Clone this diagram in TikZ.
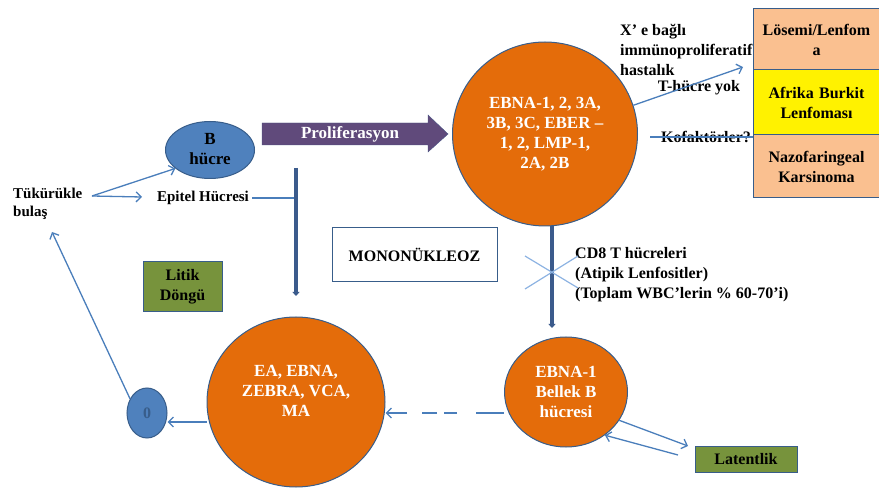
\documentclass[tikz,border=0pt]{standalone}
\usepackage{fontspec}
\setmainfont{Liberation Serif}
\usetikzlibrary{shapes.geometric, arrows.meta}
\definecolor{ebvorange}{HTML}{E46C0A}
\definecolor{ebvblue}{HTML}{4F81BD}
\definecolor{ebvedge}{HTML}{385D8A}
\definecolor{ebvline}{HTML}{4A7EBB}
\definecolor{ebvdark}{HTML}{3B5B8C}
\definecolor{ebvpurple}{HTML}{604A7B}
\definecolor{ebvpeach}{HTML}{FAC090}
\definecolor{ebvgreen}{HTML}{77933C}
\definecolor{ebvcross}{HTML}{8DB3E2}
\tikzset{
  txt/.style={font=\fontsize{16}{20}\selectfont\bfseries, align=center, inner sep=0pt},
  smalltxt/.style={txt, font=\fontsize{15}{18}\selectfont\bfseries},
  wtxt/.style={txt, text=white, font=\fontsize{17}{20}\selectfont\bfseries},
  cell/.style={ellipse, draw=ebvedge, line width=1pt, inner sep=0pt},
  orangecell/.style={cell, fill=ebvorange},
  bluecell/.style={cell, fill=ebvblue},
  greenbox/.style={rectangle, draw=ebvedge, line width=1pt, fill=ebvgreen, txt, text=black},
  sidebox/.style={rectangle, draw=ebvedge, line width=1pt, txt, minimum width=127, text width=124},
  thin/.style={ebvline, line width=1.3pt},
  thinarrow/.style={thin, -{Straight Barb[length=5pt, width=10pt]}},
  thickarrow/.style={ebvdark, line width=3.5pt, -{Triangle[length=4pt, width=7pt]}}
}
\begin{document}
\begin{tikzpicture}[x=1pt, y=-1pt]
  \useasboundingbox (0,0) rectangle (879,489);
  % cells
  \node[bluecell, minimum width=89, minimum height=57] (bcell) at (210,150) {};
  \node[txt, font=\fontsize{17}{20}\selectfont\bfseries] (bcelltxt) at (210,149) {B\\hücre};
  \node[orangecell, minimum width=185, minimum height=184] (prolif) at (545,134) {};
  \node[wtxt] (prolifc) at (545,134) {EBNA-1, 2, 3A,\\3B, 3C, EBER –\\1, 2, LMP-1,\\2A, 2B};
  \node[orangecell, minimum width=178, minimum height=170] (lytic) at (296,402) {};
  \node[wtxt] (lyticc) at (296,391) {EA, EBNA,\\ZEBRA, VCA,\\MA};
  \node[orangecell, minimum width=123, minimum height=110] (memory) at (566,392) {};
  \node[wtxt] (memoryc) at (566,392) {EBNA-1\\Bellek B\\hücresi};
  \node[bluecell, minimum width=40, minimum height=50] (virion) at (147,413) {};
  \node[txt, text=ebvedge] (virionc) at (147,413) {0};
  % texts
  \node[smalltxt, align=left, anchor=west] (saliva) at (13,204) {Tükürükle\\bulaş};
  \node[smalltxt] (epithel) at (203,198) {Epitel Hücresi};
  \node[greenbox, minimum width=79, minimum height=50] (litik) at (182.5,287) {Litik\\Döngü};
  \node[rectangle, draw=ebvedge, line width=1pt, txt, minimum width=165, minimum height=54] (mono) at (414.5,255) {MONONÜKLEOZ};
  \node[txt, align=left, anchor=north west] (cd8) at (575,247) {CD8 T hücreleri\\(Atipik Lenfositler)\\(Toplam WBC'lerin \% 60-70'i)};
  \node[greenbox, minimum width=102, minimum height=26] (latent) at (746,459) {Latentlik};
  % right column
  \node[sidebox, fill=ebvpeach, minimum height=61] (leuk) at (816.5,39.5) {Lösemi/Lenfom\\a};
  \node[sidebox, fill=yellow, minimum height=65] (burkitt) at (816.5,102.5) {Afrika Burkit\\Lenfoması};
  \node[sidebox, fill=ebvpeach, minimum height=63] (naso) at (816.5,166.5) {Nazofaringeal\\Karsinoma};
  \node[txt, align=left, anchor=west] (xlink) at (620,50) {X' e bağlı\\immünoproliferatif\\hastalık};
  \node[txt] (notcell) at (699,88) {T-hücre yok};
  \node[txt] (cofact) at (706,137) {Kofaktörler?};
  % proliferation arrow
  \fill[ebvpurple, draw=ebvedge!60!ebvpurple]
    (262,123) -- (428,123) -- (428,115) -- (448,134) -- (428,152) -- (428,145) -- (262,145) -- cycle;
  \node[wtxt] (prolifarrow) at (350,134) {Proliferasyon};
  % infection
  \coordinate (salivaout) at (92,196);
  \draw[thinarrow] (salivaout) -- (bcell.208);
  \draw[thinarrow] (salivaout) -- (142,197);
  \coordinate (join) at (296,198);
  \draw[ebvline, line width=1.3pt] (epithel.east) ++(3,0) -- (join);
  \coordinate (downtop) at (296,168);
  \coordinate (downend) at (296,296);
  \draw[thickarrow] (downtop) -- (downend);
  % to the tumours
  \coordinate (tumour) at (743,67);
  \draw[thinarrow] (prolif.18) -- (tumour);
  \coordinate (cofstart) at (650,137);
  \coordinate (cofend) at (753,137);
  \draw[thin] (cofstart) -- (cofend);
  % T cells
  \draw[thickarrow] (prolif.south) ++(7,0) coordinate (ctop) -- (552,328) coordinate (cend);
  \draw[ebvcross, line width=1.2pt] (525,256) -- (578,288) (525,289) -- (578,256);
  % back to lytic
  \draw[thin, -{Straight Barb[length=5pt, width=10pt]}, dash pattern=on 28pt off 19pt on 13pt off 7pt on 15pt off 15pt on 30pt]
    (memory.west |- 0,413) -- (lytic.east |- 0,413);
  \draw[thinarrow] (lytic.west |- 0,422) -- (virion.east |- 0,422);
  \coordinate (salivain) at (52,232);
  \draw[thinarrow] (virion.140) -- (salivain);
  % latency
  \coordinate (latin) at (688,446);
  \coordinate (latout) at (678,455);
  \draw[thinarrow] (memory.-28) -- (latin);
  \draw[thinarrow] (latout) -- (memory.-48);
\end{tikzpicture}
\end{document}
